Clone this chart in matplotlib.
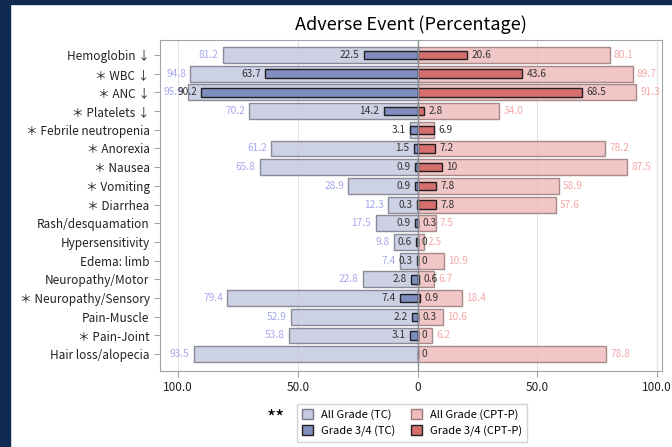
import numpy as np
import matplotlib
matplotlib.use("Agg")
from matplotlib import pyplot as plt
from matplotlib.patches import Rectangle, Patch

plt.rcParams['font.family'] = ['Noto Sans CJK JP', 'DejaVu Sans']

events = ["Hemoglobin ↓", "＊ WBC ↓", "＊ ANC ↓", "＊ Platelets ↓",
          "＊ Febrile neutropenia", "＊ Anorexia", "＊ Nausea", "＊ Vomiting",
          "＊ Diarrhea", "Rash/desquamation", "Hypersensitivity",
          "Edema: limb", "Neuropathy/Motor", "＊ Neuropathy/Sensory",
          "Pain-Muscle", "＊ Pain-Joint", "Hair loss/alopecia"]
tc_all = [81.2, 94.8, 95.9, 70.2, 3.1, 61.2, 65.8, 28.9, 12.3, 17.5, 9.8,
          7.4, 22.8, 79.4, 52.9, 53.8, 93.5]
tc_g34 = [22.5, 63.7, 90.2, 14.2, 3.1, 1.5, 0.9, 0.9, 0.3, 0.9, 0.6,
          0.3, 2.8, 7.4, 2.2, 3.1, None]
cpt_all = [80.1, 89.7, 91.3, 34.0, 6.9, 78.2, 87.5, 58.9, 57.6, 7.5, 2.5,
           10.9, 6.7, 18.4, 10.6, 6.2, 78.8]
cpt_g34 = [20.6, 43.6, 68.5, 2.8, 6.9, 7.2, 10, 7.8, 7.8, 0.3, 0,
           0, 0.6, 0.9, 0.3, 0, 0]
# rows where the all-grade numbers are not printed
hide_all = ["＊ Febrile neutropenia"]

xticks = [-100, -50, 0, 50, 100]
xticklabels = ["100.0", "50.0", "0", "50.0", "100.0"]


def fmt(v):
    if float(v).is_integer() and v < 10 or v == 10:
        return str(int(v))
    return f"{v:.1f}"


fig = plt.figure(figsize=(6.72, 4.47), dpi=100)
fig.patches.append(Rectangle((0, 0), 10 / 672, 1, transform=fig.transFigure,
                             color="#0f2b52", zorder=-1))
fig.patches.append(Rectangle((0, 1 - 4 / 447), 1, 4 / 447,
                             transform=fig.transFigure,
                             color="#0f2b52", zorder=-1))
ax = fig.add_axes([160 / 672, 1 - 371 / 447, 502 / 672, 331 / 447])

y = np.arange(len(events))
tc_g34_v = np.array([np.nan if v is None else v for v in tc_g34], float)

ax.barh(y, -np.array(tc_all), height=0.85, color="#c5c9e0", alpha=0.85,
        edgecolor="#7a7a8a", linewidth=1, zorder=2)
ax.barh(y, np.array(cpt_all), height=0.85, color="#efbcbc", alpha=0.85,
        edgecolor="#9a7a7a", linewidth=1, zorder=2)
ax.barh(y, -tc_g34_v, height=0.45, color="#7f8dbf",
        edgecolor="#202020", linewidth=1, zorder=3)
ax.barh(y, np.array(cpt_g34, float), height=0.45, color="#d66e6e",
        edgecolor="#202020", linewidth=1, zorder=3)

for i, ev in enumerate(events):
    if ev not in hide_all:
        ax.text(-tc_all[i] - 1.8, i, fmt(tc_all[i]), ha="right",
                va="center", fontsize=7.3, color="#a8a8f0", zorder=5)
        ax.text(cpt_all[i] + 1.8, i, fmt(cpt_all[i]), ha="left",
                va="center", fontsize=7.3, color="#f5a8a8", zorder=5)
    if tc_g34[i] is not None:
        ax.text(-tc_g34[i] - 1.8, i, fmt(tc_g34[i]), ha="right",
                va="center", fontsize=7.3, color="#333333", zorder=5)
    ax.text(cpt_g34[i] + 1.8, i, fmt(cpt_g34[i]), ha="left",
            va="center", fontsize=7.3, color="#333333", zorder=5)

ax.axvline(0, color="#8a9098", linewidth=1, zorder=4)
for xv in [-100, -50, 50, 100]:
    ax.axvline(xv, color="#e2e2e2", linewidth=0.8, zorder=1)

ax.set_xlim(-107.5, 102)
ax.set_ylim(16.9, -0.8)
ax.set_yticks(y)
ax.set_yticklabels(events, fontsize=8.5)
ax.set_xticks(xticks)
ax.set_xticklabels(xticklabels, fontsize=8.5)
ax.tick_params(colors="#222222", length=4)
ax.tick_params(axis="both", color="#a0a4aa")
for s in ax.spines.values():
    s.set_color("#a0a4aa")

ax.set_title("Adverse Event (Percentage)", fontsize=13, pad=7)

handles = [Patch(facecolor="#c5c9e0", edgecolor="#7a7a8a", label="All Grade (TC)"),
           Patch(facecolor="#7f8dbf", edgecolor="#202020", label="Grade 3/4 (TC)"),
           Patch(facecolor="#efbcbc", edgecolor="#9a7a7a", label="All Grade (CPT-P)"),
           Patch(facecolor="#d66e6e", edgecolor="#202020", label="Grade 3/4 (CPT-P)")]
fig.legend(handles=handles, ncol=2, loc="center", fontsize=8,
           bbox_to_anchor=(412 / 672, 1 - 423 / 447), frameon=True,
           fancybox=False, edgecolor="#c8c8c8", handlelength=1.0,
           handleheight=1.0, columnspacing=1.4, borderpad=0.45,
           labelspacing=0.45, handletextpad=0.7)
fig.text(276 / 672, 1 - 419 / 447, "**", fontsize=14, ha="center",
         va="center")

fig.savefig("out.png", dpi=100)
